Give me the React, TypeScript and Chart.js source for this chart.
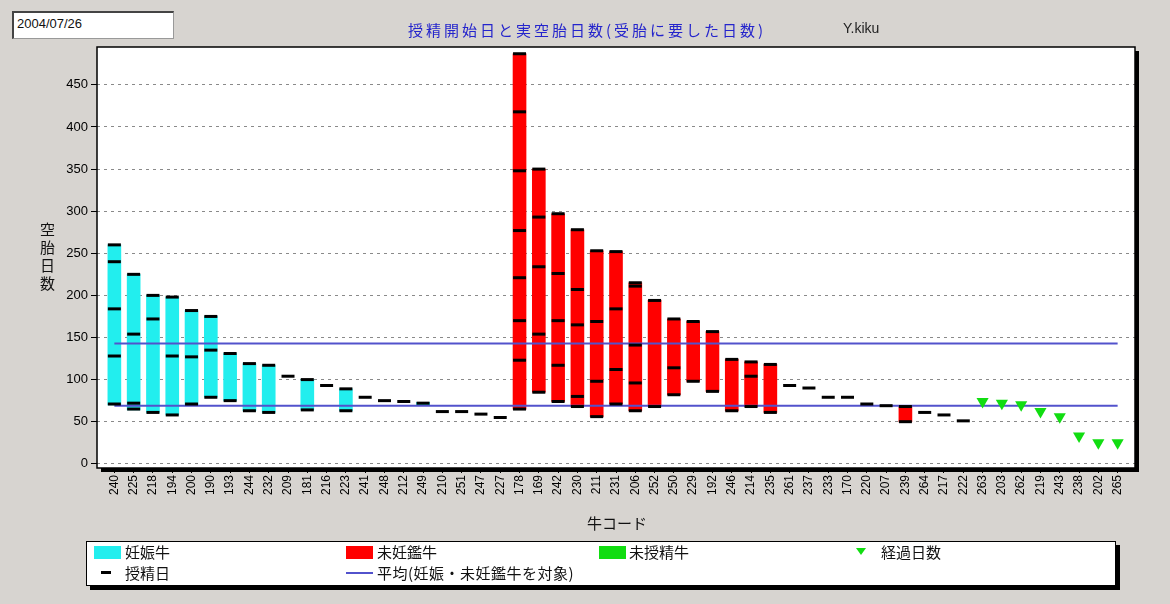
import { useEffect, useRef } from 'react'
import Chart from 'chart.js/auto'

// 牛コード (x axis categories)
const cowCodes = [
  '240', '225', '218', '194', '200', '190', '193', '244', '232', '209',
  '181', '216', '223', '241', '248', '212', '249', '210', '251', '247',
  '227', '178', '169', '242', '230', '211', '231', '206', '252', '250',
  '229', '192', '246', '214', '235', '261', '237', '233', '170', '220',
  '207', '239', '264', '217', '222', '263', '203', '262', '219', '243',
  '238', '202', '265',
]

// P = 妊娠牛, O = 未妊鑑牛, U = 未授精牛
const cowStatus = [
  'P', 'P', 'P', 'P', 'P', 'P', 'P', 'P', 'P', 'P',
  'P', 'P', 'P', 'P', 'P', 'P', 'P', 'P', 'P', 'P',
  'P', 'O', 'O', 'O', 'O', 'O', 'O', 'O', 'O', 'O',
  'O', 'O', 'O', 'O', 'O', 'O', 'O', 'O', 'O', 'O',
  'O', 'O', 'O', 'O', 'O', 'U', 'U', 'U', 'U', 'U',
  'U', 'U', 'U',
]

// first service day -> last day (空胎日数)
const rangeLow = [
  70, 64, 61, 58, 70, 79, 75, 63, 61, null,
  64, null, 63, null, null, null, 70, null, null, null,
  null, 65, 85, 74, 68, 56, 71, 63, 68, 82,
  98, 86, 63, 68, 61, null, null, null, null, null,
  null, 50, null, null, null, null, null, null, null, null,
  null, null, null,
]
const rangeHigh = [
  260, 225, 200, 198, 182, 175, 131, 119, 117, null,
  100, null, 89, null, null, null, 73, null, null, null,
  null, 487, 350, 297, 278, 253, 252, 215, 194, 172,
  169, 157, 124, 121, 118, null, null, null, null, null,
  null, 68, null, null, null, null, null, null, null, null,
  null, null, null,
]

// 授精日 (days after calving of each service)
const breedingDays = [
  [260, 240, 184, 128, 71], [225, 154, 72, 65], [200, 172, 61], [198, 128, 58],
  [182, 127, 71], [175, 135, 79], [131, 75], [119, 63], [117, 61], [104],
  [100, 64], [93], [89, 63], [79], [75], [74], [72], [62], [62], [59],
  [55], [487, 418, 348, 277, 221, 170, 123, 65], [350, 293, 234, 154, 85],
  [297, 226, 170, 117, 74], [278, 207, 165, 80, 68], [253, 169, 98, 56],
  [252, 184, 112, 71], [215, 211, 141, 96, 63], [194, 68], [172, 114, 82],
  [169, 98], [157, 86], [124, 63], [121, 104, 68], [118, 61], [93], [90],
  [79], [79], [71], [69], [68, 50], [61], [58], [51],
  [], [], [], [], [], [], [], [],
]

// 経過日数 (unbred cows)
const elapsedDays = [
  null, null, null, null, null, null, null, null, null, null,
  null, null, null, null, null, null, null, null, null, null,
  null, null, null, null, null, null, null, null, null, null,
  null, null, null, null, null, null, null, null, null, null,
  null, null, null, null, null, 74, 72, 70, 62, 56,
  33, 25, 25,
]

const avgOpenDays = 143
const avgFirstService = 69
const yTicks = [0, 50, 100, 150, 200, 250, 300, 350, 400, 450]

const latin = "'Liberation Sans', Arial, sans-serif"
const jp = "'Noto Sans CJK JP', sans-serif"

const framePlugin = {
  id: 'frame',
  beforeDraw(chart: any) {
    const { ctx, chartArea: a } = chart
    ctx.save()
    ctx.fillStyle = '#000'
    ctx.fillRect(a.left + 4, a.top + 4, a.right - a.left, a.bottom - a.top)
    ctx.fillStyle = '#fff'
    ctx.fillRect(a.left, a.top, a.right - a.left, a.bottom - a.top)
    ctx.restore()
  },
  afterDraw(chart: any) {
    const { ctx, chartArea: a } = chart
    ctx.save()
    ctx.strokeStyle = '#000'
    ctx.lineWidth = 1.5
    ctx.strokeRect(a.left, a.top, a.right - a.left, a.bottom - a.top)
    ctx.restore()
  },
}

const barsFor = (status: string) =>
  cowCodes
    .map((_, i) =>
      cowStatus[i] === status && rangeLow[i] != null
        ? { x: i, y: [rangeLow[i], rangeHigh[i]] }
        : null
    )
    .filter(Boolean)

export default function App() {
  const canvasRef = useRef<HTMLCanvasElement>(null)

  useEffect(() => {
    if (!canvasRef.current) return

    const dashes = breedingDays.flatMap((days, i) => days.map((d) => ({ x: i, y: d })))
    const elapsed = elapsedDays
      .map((v, i) => (v == null ? null : { x: i, y: v }))
      .filter(Boolean)
    const lastIdx = cowCodes.length - 1

    const chart = new Chart(canvasRef.current, {
      type: 'bar',
      data: {
        datasets: [
          {
            type: 'line',
            label: '授精日',
            data: dashes as any,
            showLine: false,
            pointStyle: 'line',
            pointRadius: 6.5,
            pointBorderWidth: 3,
            pointBorderColor: '#000',
            pointBackgroundColor: '#000',
            order: 0,
          },
          {
            type: 'line',
            label: '経過日数',
            data: elapsed as any,
            showLine: false,
            pointStyle: 'triangle',
            rotation: 180,
            pointRadius: 7,
            pointBorderWidth: 0,
            pointBorderColor: '#11dd11',
            pointBackgroundColor: '#11dd11',
            order: 0,
          },
          {
            type: 'line',
            label: '平均',
            data: [{ x: 0, y: avgOpenDays }, { x: lastIdx, y: avgOpenDays }] as any,
            borderColor: '#5252cc',
            borderWidth: 2,
            pointRadius: 0,
            order: 1,
          },
          {
            type: 'line',
            label: '平均2',
            data: [{ x: 0, y: avgFirstService }, { x: lastIdx, y: avgFirstService }] as any,
            borderColor: '#5252cc',
            borderWidth: 2,
            pointRadius: 0,
            order: 1,
          },
          {
            label: '妊娠牛',
            data: barsFor('P') as any,
            backgroundColor: '#22eeee',
            barThickness: 13,
            grouped: false,
            borderWidth: 0,
            order: 2,
          },
          {
            label: '未妊鑑牛',
            data: barsFor('O') as any,
            backgroundColor: '#ff0000',
            barThickness: 13,
            grouped: false,
            borderWidth: 0,
            order: 2,
          },
        ],
      },
      options: {
        responsive: true,
        maintainAspectRatio: false,
        animation: false,
        events: [],
        layout: { padding: { left: 0, top: 47, right: 35, bottom: 76 } },
        plugins: {
          legend: { display: false },
          tooltip: { enabled: false },
          title: { display: false },
        },
        scales: {
          x: {
            type: 'linear',
            min: -0.9,
            max: 52.9,
            offset: false,
            afterBuildTicks: (s: any) => {
              s.ticks = cowCodes.map((_, i) => ({ value: i }))
            },
            afterFit: (s: any) => {
              s.height = 60
            },
            grid: {
              offset: false,
              drawOnChartArea: false,
              drawTicks: true,
              tickLength: 5,
              tickColor: '#000',
            },
            border: { display: false },
            ticks: {
              autoSkip: false,
              minRotation: 90,
              maxRotation: 90,
              padding: 2,
              color: '#000',
              font: { family: latin, size: 12 },
              callback: (v: any) => cowCodes[v] ?? '',
            },
          },
          y: {
            min: -5,
            max: 495,
            afterBuildTicks: (s: any) => {
              s.ticks = yTicks.map((v) => ({ value: v }))
            },
            afterFit: (s: any) => {
              s.width = 97
            },
            grid: {
              color: '#8a8a8a',
              lineWidth: 1,
              drawTicks: true,
              tickLength: 6,
              tickColor: '#000',
            },
            border: { display: false, dash: [3, 4] },
            ticks: {
              padding: 3,
              color: '#000',
              font: { family: latin, size: 13 },
            },
          },
        },
      },
      plugins: [framePlugin],
    } as any)

    return () => chart.destroy()
  }, [])

  const legendText = { position: 'absolute' as const, fontFamily: jp, fontSize: 15, lineHeight: '18px', color: '#111', whiteSpace: 'nowrap' as const }

  return (
    <div style={{ position: 'absolute', left: 0, top: 0, width: 1170, height: 604, background: '#d7d4d0', overflow: 'hidden' }}>
      <div style={{ position: 'absolute', left: 0, top: 0, width: 1170, height: 604 }}>
        <canvas ref={canvasRef} />
      </div>

      {/* date box */}
      <div style={{ position: 'absolute', left: 12, top: 11, width: 156, height: 25, background: '#fff', borderTop: '2px solid #444', borderLeft: '2px solid #444', borderRight: '1px solid #999', borderBottom: '1px solid #999', fontFamily: latin, fontSize: 13, lineHeight: '22px', paddingLeft: 3, color: '#111', boxSizing: 'content-box' }}>
        2004/07/26
      </div>

      {/* title */}
      <div style={{ position: 'absolute', left: 387, width: 400, top: 19, textAlign: 'center', fontFamily: jp, fontSize: 15, letterSpacing: 3, color: '#2424cc', whiteSpace: 'nowrap' }}>
        授精開始日と実空胎日数(受胎に要した日数)
      </div>
      <div style={{ position: 'absolute', left: 843, top: 20, fontFamily: latin, fontSize: 14, color: '#222' }}>
        Y.kiku
      </div>

      {/* y axis title */}
      <div style={{ position: 'absolute', left: 37, top: 222, writingMode: 'vertical-rl', fontFamily: jp, fontSize: 15, letterSpacing: 3, color: '#111' }}>
        空胎日数
      </div>

      {/* x axis title */}
      <div style={{ position: 'absolute', left: 517, width: 200, top: 512, textAlign: 'center', fontFamily: jp, fontSize: 15, color: '#111' }}>
        牛コード
      </div>

      {/* legend */}
      <div style={{ position: 'absolute', left: 86, top: 541, width: 1028, height: 43, background: '#fff', border: '1px solid #000', boxShadow: '4px 4px 0 #000' }}>
        <div style={{ position: 'absolute', left: 7, top: 4, width: 27, height: 13, background: '#22eeee' }} />
        <div style={{ ...legendText, left: 38, top: 1 }}>妊娠牛</div>
        <div style={{ position: 'absolute', left: 259, top: 4, width: 27, height: 13, background: '#ff0000' }} />
        <div style={{ ...legendText, left: 290, top: 1 }}>未妊鑑牛</div>
        <div style={{ position: 'absolute', left: 512, top: 4, width: 27, height: 13, background: '#11dd11' }} />
        <div style={{ ...legendText, left: 542, top: 1 }}>未授精牛</div>
        <div style={{ position: 'absolute', left: 769, top: 6, width: 0, height: 0, borderLeft: '5px solid transparent', borderRight: '5px solid transparent', borderTop: '7px solid #11dd11' }} />
        <div style={{ ...legendText, left: 794, top: 1 }}>経過日数</div>

        <div style={{ position: 'absolute', left: 14, top: 29, width: 10, height: 3, background: '#000' }} />
        <div style={{ ...legendText, left: 38, top: 22 }}>授精日</div>
        <div style={{ position: 'absolute', left: 259, top: 30, width: 27, height: 2, background: '#5252cc' }} />
        <div style={{ ...legendText, left: 290, top: 22, letterSpacing: 0.5 }}>平均(妊娠・未妊鑑牛を対象)</div>
      </div>
    </div>
  )
}
